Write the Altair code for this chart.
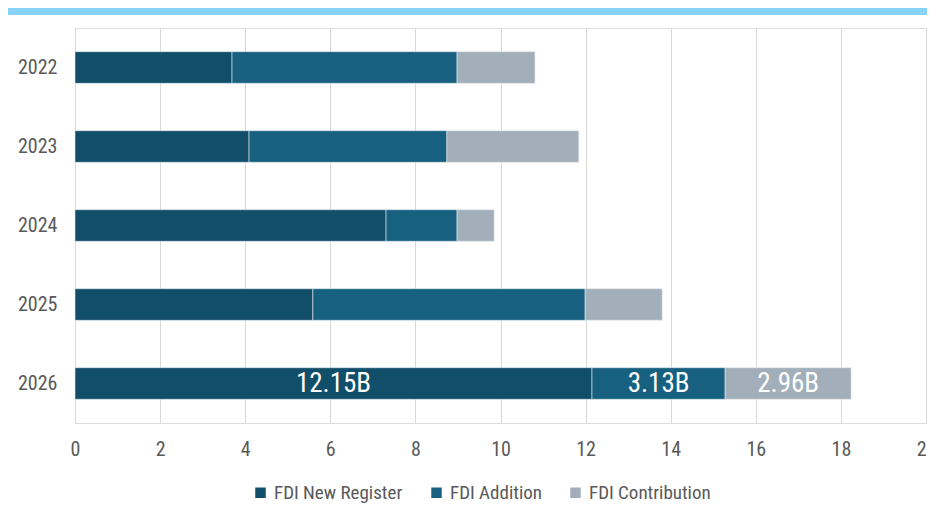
import altair as alt
import pandas as pd

years = ["2022", "2023", "2024", "2025", "2026"]
series = ["FDI New Register", "FDI Addition", "FDI Contribution"]
new_register = [3.69, 4.09, 7.31, 5.59, 12.15]
addition = [5.29, 4.65, 1.67, 6.40, 3.13]
contribution = [1.83, 3.10, 0.87, 1.81, 2.96]
colors = ["#114e6a", "#176080", "#a2afba"]

rows = []
for i, y in enumerate(years):
    start = 0.0
    for s, vals in zip(series, [new_register, addition, contribution]):
        v = vals[i]
        rows.append({"year": y, "series": s, "value": v, "start": start,
                     "end": start + v, "mid": start + v / 2,
                     "label": f"{v:.2f}B", "order": series.index(s)})
        start += v
df = pd.DataFrame(rows)

FONT = "Liberation Sans Narrow, Roboto Condensed, DejaVu Sans Condensed, sans-serif"

yenc = alt.Y("year:N", sort=years, title=None,
             scale=alt.Scale(paddingInner=0.6, paddingOuter=0.3),
             axis=alt.Axis(ticks=False, domain=False, labelPadding=18,
                           labelFontSize=20, labelColor="#595959", labelFont=FONT))

base = alt.Chart(df)

bars = base.mark_bar(stroke="#e4eaee", strokeWidth=0.6).encode(
    x=alt.X("start:Q", title=None,
            scale=alt.Scale(domain=[0, 20], nice=False),
            axis=alt.Axis(values=list(range(0, 21, 2)), ticks=False, domain=False,
                          grid=True, gridColor="#d9d9d9", labelPadding=16,
                          labelFlush=False,
                          labelFontSize=20, labelColor="#595959", labelFont=FONT)),
    x2="end:Q",
    y=yenc,
    color=alt.Color("series:N", sort=series,
                    scale=alt.Scale(domain=series, range=colors),
                    legend=alt.Legend(title=None, orient="none", legendX=176, legendY=455,
                                      direction="horizontal", symbolType="square",
                                      symbolSize=110, symbolStrokeWidth=0,
                                      labelFontSize=19, labelColor="#595959",
                                      labelFont=FONT, columnPadding=24, labelOffset=4)),
)

labels = base.transform_filter(alt.datum.year == "2026").mark_text(
    color="white", fontSize=27, font=FONT, baseline="middle", align="center"
).encode(
    x="mid:Q",
    y=alt.Y("year:N", sort=years),
    text="label:N",
)

band = alt.Chart(pd.DataFrame({"a": [0]})).mark_rect(color="#87d3f8").encode(
    x=alt.value(-67), x2=alt.value(852), y=alt.value(-20), y2=alt.value(-13)
)

chart = alt.layer(band, bars, labels).properties(
    width=851, height=395,
    autosize=alt.AutoSizeParams(type="none"),
    padding={"left": 67, "top": 20, "right": 1, "bottom": 80},
).configure_view(stroke=None).configure(background="white")

chart.save("out.html", embed_options={"renderer": "svg", "actions": False})
